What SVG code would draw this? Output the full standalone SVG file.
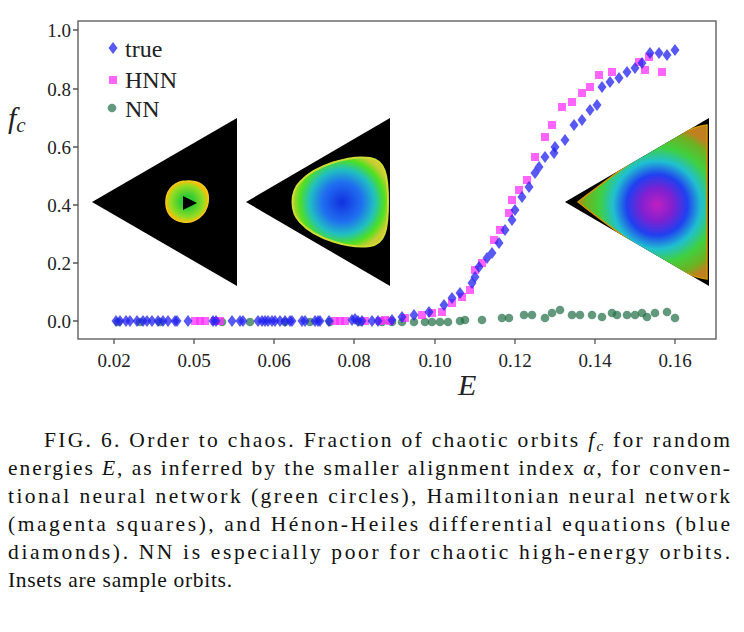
<svg xmlns="http://www.w3.org/2000/svg" width="744" height="632" viewBox="0 0 744 632">
<style>
.tk{font-family:"Liberation Serif","Times New Roman","DejaVu Serif",serif;font-size:19px;fill:#222}
.lg{font-family:"Liberation Serif","Times New Roman","DejaVu Serif",serif;font-size:24px;fill:#222}
.it{font-family:"Liberation Serif","Times New Roman","DejaVu Serif",serif;font-style:italic;font-size:30px;fill:#222}
.cap{font-family:"Liberation Serif","Times New Roman","DejaVu Serif",serif;font-size:21.5px;fill:#111}
.b{fill:#2020f0;fill-opacity:.75}
.m{fill:#ff30ff;fill-opacity:.75}
.g{fill:#1f6e45;fill-opacity:.7}
</style>
<defs>
<path id="d" d="M0,-6 L4.5,0 L0,6 L-4.5,0Z"/>
<rect id="s" x="-4" y="-4" width="8" height="8"/>
<circle id="c" r="4.3"/>
<radialGradient id="o1"><stop offset="0.3" stop-color="#3c3"/><stop offset="0.8" stop-color="#9d2"/><stop offset="1" stop-color="#fb0"/></radialGradient>
<radialGradient id="o2" gradientUnits="userSpaceOnUse" cx="342" cy="202" r="50"><stop offset="0" stop-color="#1230e0"/><stop offset="0.4" stop-color="#2070f0"/><stop offset="0.65" stop-color="#20c0c0"/><stop offset="0.85" stop-color="#50e020"/><stop offset="1" stop-color="#cc3"/></radialGradient>
<radialGradient id="o3" gradientUnits="userSpaceOnUse" cx="657" cy="205" r="80"><stop offset="0" stop-color="#c020c0"/><stop offset="0.2" stop-color="#8020d0"/><stop offset="0.38" stop-color="#2040f0"/><stop offset="0.55" stop-color="#20c0d0"/><stop offset="0.72" stop-color="#40d040"/><stop offset="0.9" stop-color="#70b020"/><stop offset="1" stop-color="#c08020"/></radialGradient>
<clipPath id="t3"><path d="M565,202 L709,118 L709,286Z"/></clipPath>
</defs>
<rect width="744" height="632" fill="#fff"/>
<g id="axes" stroke="#555" stroke-width="1.3" fill="none">
<rect x="78" y="21" width="638" height="318"/>
<path d="M114,339v5M194,339v5M274,339v5M354,339v5M435,339v5M515,339v5M595,339v5M675,339v5M78,30h-5M78,89h-5M78,147h-5M78,205h-5M78,263h-5M78,321h-5"/>
</g>
<g id="ticks" class="tk">
<g text-anchor="middle"><text x="114" y="367">0.02</text><text x="194" y="367">0.05</text><text x="274" y="367">0.06</text><text x="354" y="367">0.08</text><text x="435" y="367">0.10</text><text x="515" y="367">0.12</text><text x="595" y="367">0.14</text><text x="675" y="367">0.16</text></g>
<g text-anchor="end"><text x="71" y="37">1.0</text><text x="71" y="96">0.8</text><text x="71" y="154">0.6</text><text x="71" y="212">0.4</text><text x="71" y="270">0.2</text><text x="71" y="328">0.0</text></g>
</g>
<text class="it" x="8" y="128">f<tspan font-size="21" dy="4">c</tspan></text>
<text class="it" x="458" y="395">E</text>
<g id="insets">
<path d="M92,202 L237,118 L237,286Z" fill="#000"/>
<path d="M187,181 C203,180 210,190 208,203 C206,215 195,224 183,222 C171,220 165,212 166,200 C167,188 176,181 187,181Z" fill="url(#o1)" stroke="#ec2" stroke-width="1.5"/>
<path d="M183,196 L197,203 L183,210Z" fill="#000"/>
<path d="M246,202 L390,118 L390,286Z" fill="#000"/>
<path d="M300,182 C315,165 350,155 370,158 C385,160 388,175 388,202 C388,230 385,244 370,246 C350,249 315,239 300,222 C290,212 290,192 300,182Z" fill="url(#o2)" stroke="#cd3" stroke-width="2"/>
<path d="M565,202 L709,118 L709,286Z" fill="#000"/>
<g clip-path="url(#t3)"><path d="M578,202 C620,170 670,130 707,125 L707,279 C670,274 620,234 578,202Z" fill="url(#o3)" stroke="#c90" stroke-width="1.5"/></g>
</g>
<g id="legend">
<use href="#d" x="113" y="48" class="b"/><text class="lg" x="125" y="57">true</text>
<use href="#s" x="113" y="80" class="m"/><text class="lg" x="125" y="88">HNN</text>
<use href="#c" x="112" y="108" class="g"/><text class="lg" x="125" y="117">NN</text>
</g>
<g id="green" class="g">
<use href="#c" x="118" y="322"/><use href="#c" x="140" y="322"/><use href="#c" x="160" y="322"/><use href="#c" x="222" y="322"/><use href="#c" x="250" y="322"/><use href="#c" x="285" y="322"/><use href="#c" x="310" y="322"/><use href="#c" x="330" y="322"/><use href="#c" x="360" y="322"/><use href="#c" x="382" y="322"/><use href="#c" x="392" y="322"/><use href="#c" x="402" y="322"/><use href="#c" x="414" y="322"/><use href="#c" x="425" y="322"/><use href="#c" x="432" y="322"/><use href="#c" x="440" y="322"/><use href="#c" x="448" y="322"/><use href="#c" x="460" y="321"/><use href="#c" x="465" y="320"/><use href="#c" x="482" y="320"/><use href="#c" x="502" y="318"/><use href="#c" x="509" y="318"/><use href="#c" x="524" y="315"/><use href="#c" x="532" y="315"/><use href="#c" x="545" y="318"/><use href="#c" x="552" y="313"/><use href="#c" x="560" y="310"/><use href="#c" x="572" y="315"/><use href="#c" x="580" y="315"/><use href="#c" x="592" y="315"/><use href="#c" x="602" y="317"/><use href="#c" x="612" y="313"/><use href="#c" x="617" y="315"/><use href="#c" x="627" y="315"/><use href="#c" x="635" y="315"/><use href="#c" x="642" y="313"/><use href="#c" x="647" y="317"/><use href="#c" x="655" y="313"/><use href="#c" x="667" y="312"/><use href="#c" x="675" y="318"/>
</g>
<g id="hnn" class="m">
<use href="#s" x="195" y="321"/><use href="#s" x="200" y="321"/><use href="#s" x="205" y="321"/><use href="#s" x="215" y="321"/><use href="#s" x="220" y="321"/><use href="#s" x="335" y="321"/><use href="#s" x="340" y="321"/><use href="#s" x="345" y="321"/><use href="#s" x="365" y="321"/><use href="#s" x="380" y="321"/><use href="#s" x="390" y="321"/>
<use href="#s" x="662" y="72"/><use href="#s" x="645" y="70"/><use href="#s" x="649" y="57"/><use href="#s" x="639" y="62"/><use href="#s" x="612" y="72"/><use href="#s" x="599" y="75"/><use href="#s" x="590" y="87"/><use href="#s" x="582" y="93"/><use href="#s" x="572" y="102"/><use href="#s" x="562" y="107"/><use href="#s" x="552" y="125"/><use href="#s" x="545" y="137"/><use href="#s" x="535" y="157"/><use href="#s" x="527" y="180"/><use href="#s" x="519" y="190"/><use href="#s" x="512" y="200"/><use href="#s" x="509" y="213"/><use href="#s" x="500" y="230"/><use href="#s" x="494" y="240"/><use href="#s" x="482" y="263"/><use href="#s" x="475" y="270"/><use href="#s" x="470" y="290"/><use href="#s" x="462" y="297"/><use href="#s" x="452" y="303"/><use href="#s" x="442" y="312"/><use href="#s" x="432" y="313"/><use href="#s" x="422" y="315"/><use href="#s" x="405" y="318"/><use href="#s" x="385" y="320"/>
</g>
<g id="true" class="b">
<use href="#d" x="116" y="321"/><use href="#d" x="120" y="321"/><use href="#d" x="126" y="321"/><use href="#d" x="130" y="321"/><use href="#d" x="137" y="321"/><use href="#d" x="143" y="321"/><use href="#d" x="147" y="321"/><use href="#d" x="152" y="321"/><use href="#d" x="158" y="321"/><use href="#d" x="163" y="321"/><use href="#d" x="168" y="321"/><use href="#d" x="175" y="321"/><use href="#d" x="177" y="321"/><use href="#d" x="188" y="321"/><use href="#d" x="213" y="321"/><use href="#d" x="216" y="321"/><use href="#d" x="232" y="321"/><use href="#d" x="240" y="321"/><use href="#d" x="243" y="321"/><use href="#d" x="258" y="321"/><use href="#d" x="262" y="321"/><use href="#d" x="265" y="321"/><use href="#d" x="268" y="321"/><use href="#d" x="272" y="321"/><use href="#d" x="275" y="321"/><use href="#d" x="280" y="321"/><use href="#d" x="285" y="321"/><use href="#d" x="290" y="321"/><use href="#d" x="292" y="321"/><use href="#d" x="302" y="321"/><use href="#d" x="305" y="321"/><use href="#d" x="315" y="321"/><use href="#d" x="318" y="321"/><use href="#d" x="320" y="321"/><use href="#d" x="329" y="321"/><use href="#d" x="352" y="320"/><use href="#d" x="355" y="319"/><use href="#d" x="358" y="321"/><use href="#d" x="362" y="321"/><use href="#d" x="372" y="321"/><use href="#d" x="378" y="321"/>
<use href="#d" x="675" y="50"/><use href="#d" x="667" y="55"/><use href="#d" x="659" y="53"/><use href="#d" x="650" y="53"/><use href="#d" x="642" y="63"/><use href="#d" x="635" y="68"/><use href="#d" x="627" y="72"/><use href="#d" x="619" y="78"/><use href="#d" x="610" y="82"/><use href="#d" x="602" y="87"/><use href="#d" x="597" y="105"/><use href="#d" x="590" y="110"/><use href="#d" x="582" y="120"/><use href="#d" x="574" y="125"/><use href="#d" x="565" y="140"/><use href="#d" x="555" y="147"/><use href="#d" x="554" y="153"/><use href="#d" x="545" y="157"/><use href="#d" x="539" y="167"/><use href="#d" x="535" y="173"/><use href="#d" x="529" y="187"/><use href="#d" x="522" y="197"/><use href="#d" x="515" y="210"/><use href="#d" x="512" y="220"/><use href="#d" x="505" y="230"/><use href="#d" x="499" y="243"/><use href="#d" x="492" y="253"/><use href="#d" x="487" y="258"/><use href="#d" x="479" y="267"/><use href="#d" x="475" y="277"/><use href="#d" x="472" y="283"/><use href="#d" x="460" y="293"/><use href="#d" x="452" y="298"/><use href="#d" x="444" y="305"/><use href="#d" x="429" y="312"/><use href="#d" x="414" y="315"/><use href="#d" x="402" y="317"/><use href="#d" x="392" y="320"/>
</g>
<g id="caption" class="cap">
<text x="44" y="447" textLength="686" lengthAdjust="spacing">FIG. 6.  Order to chaos. Fraction of chaotic orbits <tspan font-style="italic">f</tspan><tspan font-style="italic" font-size="15" dy="4">c</tspan><tspan dy="-4"> for random</tspan></text>
<text x="8" y="475" textLength="722" lengthAdjust="spacing">energies <tspan font-style="italic">E</tspan>, as inferred by the smaller alignment index <tspan font-style="italic">α</tspan>, for conven-</text>
<text x="8" y="503" textLength="722" lengthAdjust="spacing">tional neural network (green circles), Hamiltonian neural network</text>
<text x="8" y="531" textLength="722" lengthAdjust="spacing">(magenta squares), and Hénon-Heiles differential equations (blue</text>
<text x="8" y="559" textLength="722" lengthAdjust="spacing">diamonds). NN is especially poor for chaotic high-energy orbits.</text>
<text x="8" y="587" textLength="224" lengthAdjust="spacing">Insets are sample orbits.</text>
</g>
</svg>
